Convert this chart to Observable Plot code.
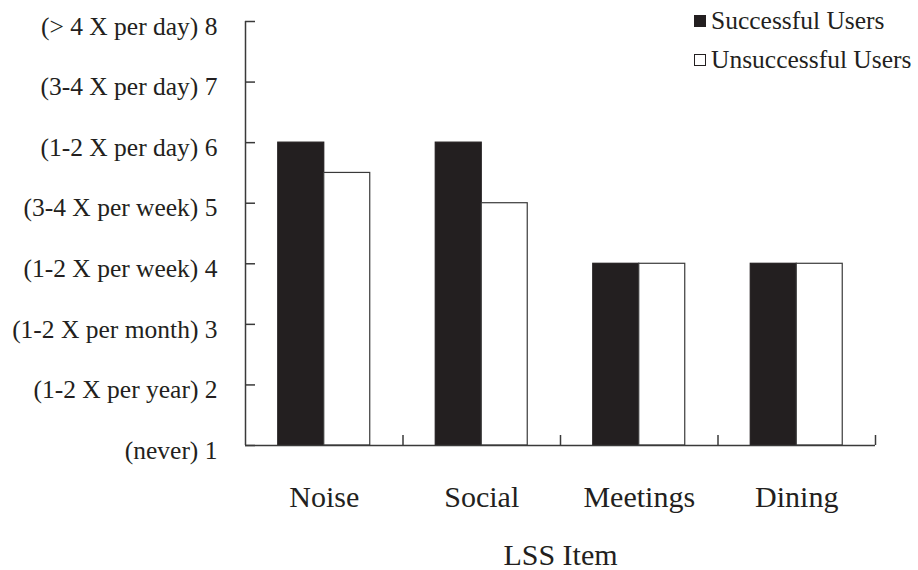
<!DOCTYPE html>
<html><head><meta charset="utf-8">
<script src="https://cdn.jsdelivr.net/npm/d3@7"></script>
<script src="https://cdn.jsdelivr.net/npm/@observablehq/plot@0.6"></script>
<style>
body{margin:0;background:#fff;}
#wrap{position:relative;width:918px;height:570px;font-family:"Liberation Serif","Times New Roman",serif;color:#231f20;}
.leg{position:absolute;left:694px;font-size:25.5px;display:flex;align-items:center;white-space:nowrap;line-height:1;}
.sw{width:12px;height:12px;box-sizing:border-box;margin-right:5px;}
</style></head><body><div id="wrap"></div>
<script>
const categories = ["Noise", "Social", "Meetings", "Dining"];
const seriesNames = ["Successful Users", "Unsuccessful Users"];
const successful = [6, 6, 4, 4];
const unsuccessful = [5.5, 5, 4, 4];
const yTicks = [1, 2, 3, 4, 5, 6, 7, 8];
const yTickLabels = ["(never) 1", "(1-2 X per year) 2", "(1-2 X per month) 3", "(1-2 X per week) 4",
  "(3-4 X per week) 5", "(1-2 X per day) 6", "(3-4 X per day) 7", "(> 4 X per day) 8"];
const xTitle = "LSS Item";
const baseLevel = 1;

const seriesValues = [successful, unsuccessful];
const rows = [];
categories.forEach((cat, i) => {
  seriesNames.forEach((s, k) => rows.push({cat, i, k, series: s, value: seriesValues[k][i]}));
});
const barFrac = 0.292; // bar width as fraction of category step
const ink = "#231f20";

const chart = Plot.plot({
  width: 918, height: 570,
  marginLeft: 245, marginRight: 43, marginTop: 21, marginBottom: 125,
  style: {fontFamily: '"Liberation Serif","Times New Roman",serif', color: ink, background: "#fff"},
  x: {domain: [0, categories.length], axis: null},
  y: {domain: [1, 8], axis: null},
  color: {domain: seriesNames, range: [ink, "#ffffff"]},
  marks: [
    Plot.rectY(rows, {
      x1: d => d.i + 0.5 - (d.k === 0 ? barFrac : 0),
      x2: d => d.i + 0.5 + (d.k === 0 ? 0 : barFrac),
      y1: baseLevel, y2: "value",
      fill: "series", stroke: d => d.k === 0 ? ink : "#3a3a3a", strokeWidth: 1.2
    }),
    Plot.ruleY([baseLevel], {stroke: "#3a3a3a", strokeWidth: 1.5}),
    Plot.ruleX([0], {stroke: "#3a3a3a", strokeWidth: 1.5}),
    Plot.axisY({ticks: yTicks, tickSize: -10, tickFormat: () => "", stroke: "#3a3a3a", strokeWidth: 1.5, label: null}),
    Plot.axisY({ticks: yTicks, tickSize: 0, tickPadding: 28, fontSize: 25.5, dy: 5, fill: ink,
      tickFormat: d => yTickLabels[yTicks.indexOf(d)], label: null}),
    Plot.axisX({ticks: d3.range(1, categories.length + 1), tickSize: -10, tickFormat: () => "", stroke: "#3a3a3a", strokeWidth: 1.5, label: null}),
    Plot.axisX({ticks: categories.map((c, i) => i + 0.5), tickSize: 0, tickPadding: 40, fontSize: 30, fill: ink,
      tickFormat: v => categories[Math.floor(v)], label: null}),
    Plot.text([xTitle], {frameAnchor: "bottom", dy: 110, fontSize: 30, fill: ink, lineAnchor: "middle"})
  ]
});
const wrap = document.getElementById("wrap");
wrap.appendChild(chart);
const legTops = [8, 47];
seriesNames.forEach((s, k) => {
  const el = document.createElement("div");
  el.className = "leg";
  el.style.top = legTops[k] + "px";
  const sw = document.createElement("span");
  sw.className = "sw";
  sw.style.background = k === 0 ? ink : "#fff";
  sw.style.border = "1px solid " + ink;
  el.appendChild(sw);
  el.appendChild(document.createTextNode(s));
  wrap.appendChild(el);
});
</script></body></html>
